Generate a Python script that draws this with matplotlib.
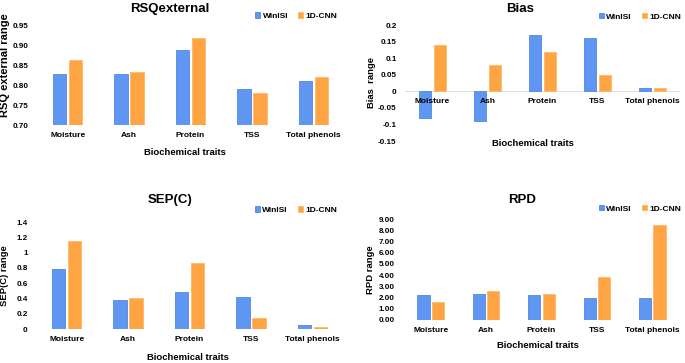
import numpy as np
import matplotlib
matplotlib.use('Agg')
import matplotlib.pyplot as plt

plt.rcParams['font.family'] = ['Liberation Sans', 'DejaVu Sans']
plt.rcParams['font.weight'] = 'bold'

# data
traits = ['Moisture', 'Ash', 'Protein', 'TSS', 'Total phenols']
series = ['WinISI', '1D-CNN']

rsq_winisi = [0.83, 0.83, 0.89, 0.79, 0.81]
rsq_cnn = [0.865, 0.835, 0.92, 0.78, 0.82]

bias_winisi = [-0.08, -0.09, 0.17, 0.16, 0.01]
bias_cnn = [0.14, 0.08, 0.12, 0.05, 0.01]

sep_winisi = [0.78, 0.38, 0.48, 0.42, 0.05]
sep_cnn = [1.15, 0.40, 0.87, 0.15, 0.02]

rpd_winisi = [2.20, 2.35, 2.20, 1.95, 2.00]
rpd_cnn = [1.60, 2.60, 2.35, 3.85, 8.45]

BLUE = '#5F96F2'
BLUE_EDGE = '#4F88E8'
ORANGE = '#FFA443'
ORANGE_EDGE = '#FFB868'

W, H = 685, 363


def px_axes(fig, left, right, top, bottom):
    # pixel box -> figure fraction
    return fig.add_axes([left / W, 1 - bottom / H, (right - left) / W, (bottom - top) / H])


def panel(ax, v1, v2, title, ylabel, ylim, yticks, ytick_fmt,
          title_xy, legend_xy, ylabel_xy, xlabel_xy, tick_pad, ylabel_size=6.8):
    x = np.arange(len(traits))
    width, off = 0.22, 0.13
    ax.bar(x - off, v1, width, color=BLUE, edgecolor=BLUE_EDGE, linewidth=0.6, label=series[0])
    ax.bar(x + off, v2, width, color=ORANGE, edgecolor=ORANGE_EDGE, linewidth=0.6, label=series[1])
    ax.set_xlim(-0.5, len(traits) - 0.5)
    ax.set_ylim(*ylim)
    ax.set_yticks(yticks)
    ax.set_yticklabels([ytick_fmt.format(t) for t in yticks], fontsize=5.8, fontweight='bold')
    ax.set_xticks(x)
    ax.set_xticklabels(traits, fontsize=6, fontweight='bold')
    ax.tick_params(axis='both', length=0)
    ax.tick_params(axis='x', pad=tick_pad)
    ax.tick_params(axis='y', pad=6)
    for s in ['top', 'right', 'left', 'bottom']:
        ax.spines[s].set_visible(False)
    ax.axhline(0 if ylim[0] < 0 else ylim[0], color='#d9d9d9', linewidth=0.6, zorder=0)
    ax.set_title(title, fontsize=9.5, fontweight='bold', x=title_xy[0], y=title_xy[1])
    ax.set_ylabel(ylabel, fontsize=ylabel_size, fontweight='bold')
    ax.yaxis.set_label_coords(*ylabel_xy)
    ax.set_xlabel('Biochemical traits', fontsize=6.8, fontweight='bold')
    ax.xaxis.set_label_coords(*xlabel_xy)
    ax.legend(loc='center', bbox_to_anchor=legend_xy, ncol=2, frameon=False,
              fontsize=6, handlelength=0.6, handleheight=0.6, handletextpad=0.3,
              columnspacing=1.2, borderaxespad=0)


fig = plt.figure(figsize=(W / 100, H / 100), dpi=100)

ax1 = px_axes(fig, 37, 344, 26, 125)
panel(ax1, rsq_winisi, rsq_cnn, 'RSQexternal', 'RSQ external range',
      (0.70, 0.95), [0.70, 0.75, 0.80, 0.85, 0.90, 0.95], '{:.2f}',
      (0.433, 1.06), (0.845, 1.1), (-0.088, 0.6), (0.482, -0.23), 5, ylabel_size=8)

ax2 = px_axes(fig, 405, 680, 25, 141)
panel(ax2, bias_winisi, bias_cnn, 'Bias', 'Bias  range',
      (-0.15, 0.2), [-0.15, -0.1, -0.05, 0, 0.05, 0.1, 0.15, 0.2], '{:g}',
      (0.418, 1.04), (0.855, 1.07), (-0.105, 0.5), (0.465, 0.02), -31)

ax3 = px_axes(fig, 36, 343, 222, 329)
panel(ax3, sep_winisi, sep_cnn, 'SEP(C)', 'SEP(C) range',
      (0, 1.4), [0, 0.2, 0.4, 0.6, 0.8, 1, 1.2, 1.4], '{:g}',
      (0.436, 1.1), (0.847, 1.11), (-0.088, 0.5), (0.495, -0.22), 5)

ax4 = px_axes(fig, 403, 680, 219, 320)
panel(ax4, rpd_winisi, rpd_cnn, 'RPD', 'RPD range',
      (0, 9), list(range(10)), '{:.2f}',
      (0.43, 1.08), (0.856, 1.1), (-0.1, 0.5), (0.487, -0.205), 5)

fig.savefig('out.png', dpi=100)
